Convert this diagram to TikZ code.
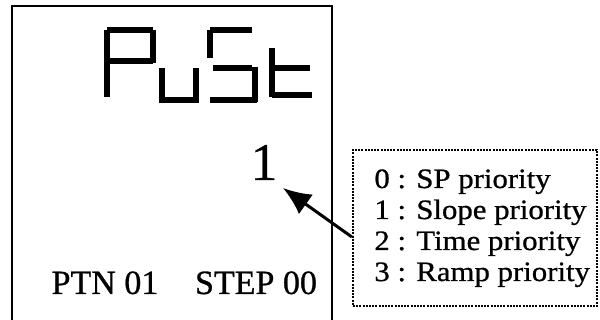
\documentclass[tikz,border=0pt]{standalone}
\usepackage{fontspec}
\setmainfont{Liberation Serif}[FakeBold=0.8]
\newfontfamily\widefont{Liberation Serif}[FakeStretch=1.1, FakeBold=0.8]
\usetikzlibrary{arrows.meta}
\tikzset{
    every node/.style={inner sep=0pt}
}
\tikzset{
    seg/.style={line width=3pt, line cap=butt}
}
\tikzset{
	legendbox/.style={draw, line width=1.1pt, dash pattern=on 1pt off 0.6pt,
		minimum width=122pt, minimum height=78pt}
}
\tikzset{
	item/.style={anchor=base west, font=\widefont\fontsize{14}{15}\selectfont}
}

\begin{document}
\begin{tikzpicture}[x=0.5pt, y=-0.5pt]
	\useasboundingbox (0,0) rectangle (600,320);
	\draw[line width=1.2pt] (12,320) -- (12,6) -- (332,6) -- (332,320);

	\draw[seg] (107,30) -- (153,30); \draw[seg] (107,30) -- (107,97);
	\draw[seg] (153,30) -- (153,63); \draw[seg] (107,61) -- (153,61);
	\draw[seg] (162,68) -- (162,103); \draw[seg] (196,68) -- (196,103);
	\draw[seg] (162,100) -- (196,100);
	\draw[seg] (210,30) -- (252,30); \draw[seg] (210,30) -- (210,58);
	\draw[seg] (213,68) -- (252,68); \draw[seg] (255,67) -- (255,102);
	\draw[seg] (210,100) -- (257,100);
	\draw[seg] (272,48) -- (272,97); \draw[seg] (275,68) -- (310,68);
	\draw[seg] (272,95) -- (312,95);

	\node (val) [anchor=base] at (264,180) {\fontsize{26.5}{27}\selectfont 1};
	\node (ptn) [anchor=base] at (105,294) {\fontsize{17}{17}\selectfont PTN 01};
	\node (step) [anchor=base] at (256,294) {\fontsize{17}{17}\selectfont STEP 00};

	\node (legend) [legendbox] at (475,228) {};
	\node (row0) [item] at (374,188) {0 : SP priority};
	\node (row1) [item] at (374,219) {1 : Slope priority};
	\node (row2) [item] at (374,250) {2 : Time priority};
	\node (row3) [item] at (374,281) {3 : Ramp priority};

	\coordinate (tip) at (283,188);
	\draw[-{Latex[length=14pt, width=12pt]}, line width=1.5pt]
		([yshift=-4.5pt]legend.west) -- (tip);
\end{tikzpicture}
\end{document}
